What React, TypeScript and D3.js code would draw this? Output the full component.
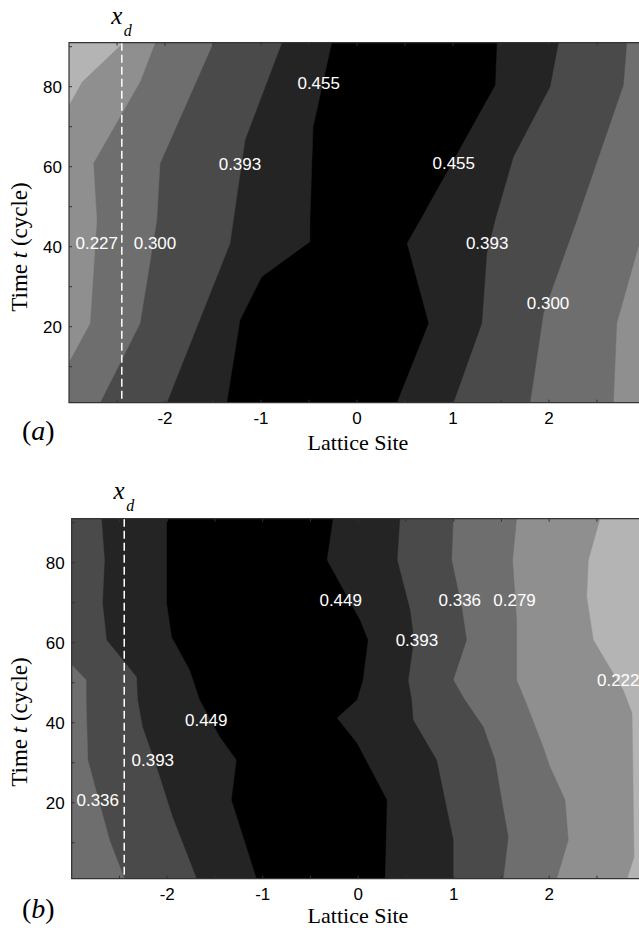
import React from 'react';
import * as d3 from 'd3';

// ---------- data ----------
const siteDomain: [number, number] = [-3, 3];
const timeDomain: [number, number] = [1, 91];
const siteTickLabels = [-2, -1, 0, 1, 2];
const siteTicks = [-2.5, -2, -1.5, -1, -0.5, 0, 0.5, 1, 1.5, 2, 2.5];
const timeTickLabels = [20, 40, 60, 80];
const timeTicks = [10, 20, 30, 40, 50, 60, 70, 80, 90];
const xdSite = -2.45;

type Pt = [number, number];

// contour boundaries of panel (a), [lattice site, time], left to right
const contoursA: Pt[][] = [
  [[-2.437, 91], [-2.867, 81.2], [-3, 75.4]],
  [[-2.104, 91], [-2.26, 81.25], [-2.747, 60.85], [-2.711, 46.7], [-2.781, 20.85], [-3, 11.2]],
  [[-1.497, 91], [-2.052, 60.85], [-2.086, 46.7], [-2.125, 40.9], [-2.26, 20.85], [-2.677, 1]],
  [[-0.784, 91], [-1.167, 66.7], [-1.288, 46.7], [-1.323, 40.85], [-1.982, 1]],
  [[-0.264, 91], [-0.458, 69.9], [-0.49, 46.7], [-0.49, 41.25], [-0.993, 32.5], [-1.219, 21.7], [-1.357, 1]],
  [[1.455, 91], [1.4375, 80.4], [0.656, 46.7], [0.518, 40.85], [0.743, 20.85], [0.413, 1]],
  [[2.097, 91], [2.01, 80], [1.628, 62.5], [1.4375, 46.7], [1.351, 38.35], [1.299, 20.85], [1.003, 1]],
  [[2.809, 91], [2.774, 80.4], [2.289, 46.7], [1.941, 23.35], [1.802, 1]],
  [[3, 46], [2.93, 40], [2.705, 20.85], [2.67, 1]],
];
const bandFillsA = ['#b4b4b4', '#8f8f8f', '#6e6e6e', '#4a4a4a', '#242424', '#000000', '#242424', '#4a4a4a', '#6e6e6e', '#8f8f8f'];
const labelTextA = ['0.455', '0.393', '0.455', '0.227', '0.300', '0.393', '0.300'];
const labelSiteA = [-0.399, -1.219, 1.008, -2.711, -2.104, 1.356, 1.99];
const labelTimeA = [81, 60.7, 60.85, 40.9, 40.9, 40.9, 26];

// contour boundaries of panel (b)
const contoursB: Pt[][] = [
  [[-3, 54.4], [-2.849, 50.7], [-2.849, 45.7], [-2.832, 30.7], [-2.605, 10.7], [-2.448, 1]],
  [[-2.689, 91], [-2.657, 80.7], [-2.678, 69.9], [-2.636, 60.7], [-2.322, 51.4], [-2.311, 45.7], [-2.259, 38.9], [-2.112, 28.9], [-1.945, 16.4], [-1.693, 1]],
  [[-2.007, 91], [-2.007, 69.9], [-1.955, 61.4], [-1.766, 53.2], [-1.661, 45.7], [-1.452, 36.5], [-1.277, 30.7], [-1.329, 20.7], [-1.067, 1]],
  [[-0.267, 91], [-0.33, 80.7], [0.016, 65.7], [0.1, 60.7], [0.047, 50.7], [-0.016, 45.7], [-0.225, 41.2], [-0.016, 34.9], [0.299, 20.7], [0.278, 1]],
  [[0.435, 91], [0.407, 80.7], [0.542, 68.2], [0.582, 60.7], [0.522, 50.6], [0.558, 45.7], [0.574, 40.7], [0.82, 30.7], [0.907, 20.7], [0.994, 10.7], [0.994, 1]],
  [[0.994, 91], [0.977, 80.7], [1.082, 69], [1.134, 60.7], [0.994, 50.7], [1.116, 45.7], [1.308, 39], [1.431, 30.7], [1.501, 20.7], [1.57, 11.5], [1.518, 1]],
  [[1.658, 91], [1.616, 80.7], [1.658, 65.7], [1.658, 50.7], [1.745, 45.7], [1.92, 34.9], [2.007, 29], [2.165, 20.7], [2.199, 10.7], [2.078, 1]],
  [[2.531, 91], [2.409, 80.7], [2.392, 71.5], [2.461, 60.7], [2.773, 48.2], [2.867, 42.4], [2.888, 6.4], [2.814, 1]],
];
const bandFillsB = ['#6e6e6e', '#4a4a4a', '#242424', '#000000', '#242424', '#4a4a4a', '#6e6e6e', '#8f8f8f', '#b4b4b4'];
const labelTextB = ['0.449', '0.393', '0.336', '0.279', '0.222', '0.449', '0.393', '0.336'];
const labelSiteB = [-0.183, 0.615, 1.064, 1.637, 2.723, -1.591, -2.151, -2.727];
const labelTimeB = [70.7, 60.7, 70.7, 70.7, 50.7, 40.7, 30.7, 20.7];

// ---------- helpers ----------
function leftRegion(pts: Pt[], x0: number, x1: number, y0: number, y1: number): Pt[] {
  const W = x1 - x0, H = y1 - y0, P = 2 * W + 2 * H;
  const sOf = ([x, y]: Pt) => {
    const d = [Math.abs(y - y0), Math.abs(x - x1), Math.abs(y - y1), Math.abs(x - x0)];
    const k = d.indexOf(Math.min(...d));
    if (k === 0) return x - x0;
    if (k === 1) return W + (y - y0);
    if (k === 2) return W + H + (x1 - x);
    return 2 * W + H + (y1 - y);
  };
  const corners: [number, number, number][] = [[x0, y0, 0], [x1, y0, W], [x1, y1, W + H], [x0, y1, 2 * W + H]];
  const all = [...corners, ...corners.map((c) => [c[0], c[1], c[2] + P] as [number, number, number])];
  const sEnd = sOf(pts[pts.length - 1]);
  let sStart = sOf(pts[0]);
  if (sStart <= sEnd) sStart += P;
  const extra: Pt[] = all.filter((c) => c[2] > sEnd && c[2] < sStart).map((c) => [c[0], c[1]] as Pt);
  return [...pts, ...extra];
}

interface PanelProps {
  id: string;
  box: { x0: number; x1: number; y0: number; y1: number };
  contours: Pt[][];
  fills: string[];
  labelText: string[];
  labelSite: number[];
  labelTime: number[];
  letter: string;
  letterY: number;
  xLabelY: number;
  yLabelY: number;
  xdY: number;
}

function Panel(p: PanelProps) {
  const { x0, x1, y0, y1 } = p.box;
  const x = d3.scaleLinear().domain(siteDomain).range([x0, x1]);
  const y = d3.scaleLinear().domain(timeDomain).range([y1, y0]);
  const line = d3.line<Pt>().x((d) => d[0]).y((d) => d[1]);
  const n = p.contours.length;
  const order = d3.range(n).reverse();
  const xdPx = x(xdSite);
  const sans = 'Liberation Sans, Arial, sans-serif';
  const serif = 'Liberation Serif, Times New Roman, serif';
  return (
    <g>
      <defs>
        <clipPath id={p.id}>
          <rect x={x0} y={y0} width={x1 - x0} height={y1 - y0} />
        </clipPath>
      </defs>
      <g clipPath={`url(#${p.id})`}>
        <rect x={x0} y={y0} width={x1 - x0} height={y1 - y0} fill={p.fills[n]} />
        {order.map((i) => {
          const px: Pt[] = p.contours[i].map((d) => [x(d[0]), y(d[1])] as Pt);
          const poly = leftRegion(px, x0, x1, y0, y1);
          return <path key={i} d={line(poly) + 'Z'} fill={p.fills[i]} stroke={p.fills[i]} strokeWidth={0.5} />;
        })}
        <line x1={xdPx} x2={xdPx} y1={y0} y2={y1} stroke="#fff" strokeWidth={1.5} strokeDasharray="8,4" />
        {p.labelText.map((t, i) => (
          <text key={i} x={x(p.labelSite[i])} y={y(p.labelTime[i])} dy="0.36em" textAnchor="middle"
            fontFamily={sans} fontSize={17} fill="#fff">{t}</text>
        ))}
        {siteTicks.map((s) => (
          <g key={'s' + s}>
            <line x1={x(s)} x2={x(s)} y1={y0} y2={y0 + 3} stroke="#333" />
            <line x1={x(s)} x2={x(s)} y1={y1} y2={y1 - 3} stroke="#333" />
          </g>
        ))}
        {timeTicks.map((t) => (
          <line key={'t' + t} x1={x0} x2={x0 + 3} y1={y(t)} y2={y(t)} stroke="#333" />
        ))}
      </g>
      <path d={`M${x1},${y0}H${x0}V${y1}H${x1}`} fill="none" stroke="#333" strokeWidth={1.2} />
      {siteTickLabels.map((s) => (
        <text key={'sl' + s} x={x(s)} y={y1 + 21} textAnchor="middle" fontFamily={sans} fontSize={17} fill="#000">{String(s)}</text>
      ))}
      {timeTickLabels.map((t) => (
        <text key={'tl' + t} x={x0 - 7} y={y(t)} dy="0.36em" textAnchor="end" fontFamily={sans} fontSize={17} fill="#000">{String(t)}</text>
      ))}
      <text x={358} y={p.xLabelY} textAnchor="middle" fontFamily={serif} fontSize={22} fill="#000">Lattice Site</text>
      <text transform={`translate(27,${p.yLabelY}) rotate(-90)`} textAnchor="middle" fontFamily={serif} fontSize={23} fill="#000">
        Time <tspan fontStyle="italic">t</tspan> (cycle)
      </text>
      <text x={22} y={p.letterY} fontFamily={serif} fontSize={28} fill="#000">
        (<tspan fontStyle="italic">{p.letter}</tspan>)
      </text>
      <text x={xdPx + 0.5} y={p.xdY} textAnchor="end" fontFamily={serif} fontStyle="italic" fontSize={25} fill="#000">x</text>
      <text x={xdPx + 2} y={p.xdY + 12} fontFamily={serif} fontStyle="italic" fontSize={16} fill="#000">d</text>
    </g>
  );
}

export default function App() {
  return (
    <svg width={639} height={940} style={{ position: 'absolute', left: 0, top: 0, background: '#fff' }}>
      <Panel id="clipA" box={{ x0: 69, x1: 645, y0: 42.7, y1: 402.7 }} contours={contoursA} fills={bandFillsA}
        labelText={labelTextA} labelSite={labelSiteA} labelTime={labelTimeA}
        letter="a" letterY={440} xLabelY={450} yLabelY={247} xdY={24} />
      <Panel id="clipB" box={{ x0: 71.7, x1: 644.7, y0: 518.7, y1: 878.7 }} contours={contoursB} fills={bandFillsB}
        labelText={labelTextB} labelSite={labelSiteB} labelTime={labelTimeB}
        letter="b" letterY={918} xLabelY={923} yLabelY={722} xdY={499} />
    </svg>
  );
}
